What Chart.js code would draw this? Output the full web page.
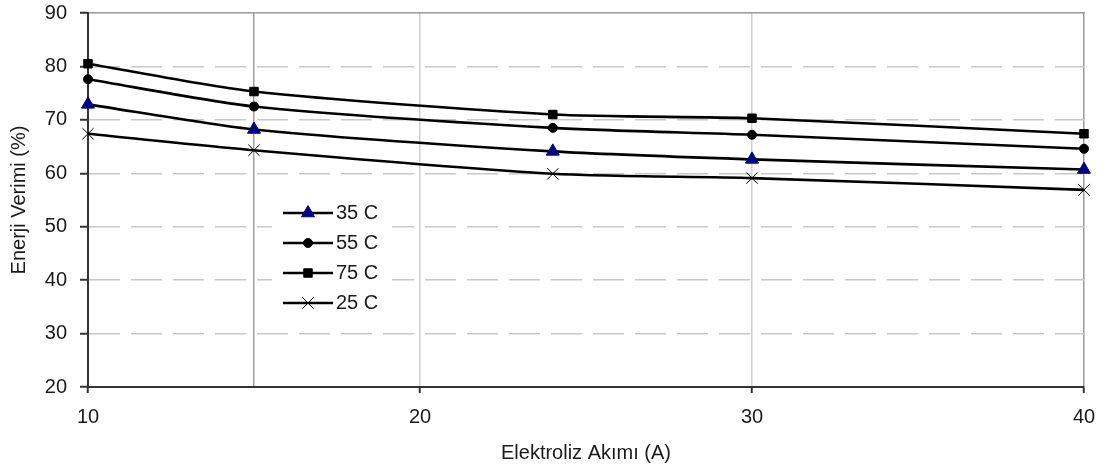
<!DOCTYPE html>
<html>
<head>
<meta charset="utf-8">
<script src="https://cdn.jsdelivr.net/npm/chart.js@4/dist/chart.umd.min.js"></script>
<style>
    html, body { margin: 0; padding: 0; background: #fff; }
    #verim-chart { display: block; }
</style>
</head>
<body>
<canvas id="verim-chart" width="1107" height="470"></canvas>
<script>
    // Elektroliz akımı (A)
    const akim = [10, 15, 24, 30, 40];

    // Enerji verimi (%) for each temperature
    const verim35 = [72.9, 68.2, 64.1, 62.6, 60.7];
    const verim55 = [77.6, 72.5, 68.5, 67.2, 64.6];
    const verim75 = [80.5, 75.3, 71.0, 70.3, 67.4];
    const verim25 = [67.4, 64.3, 59.9, 59.1, 56.9];

    const seriesNames = ['35 C', '55 C', '75 C', '25 C'];
    const xTicks = [10, 15, 20, 30, 40];
    const yTicks = [20, 30, 40, 50, 60, 70, 80, 90];

    Chart.defaults.font.family = "'Liberation Sans', Arial, sans-serif";
    Chart.defaults.font.size = 20;
    Chart.defaults.color = '#1a1a1a';

    const toPoints = vals => vals.map((v, i) => ({ x: akim[i], y: v }));

    function series(label, vals, style, radius, fill) {
        return {
            label: label,
            data: toPoints(vals),
            borderColor: '#000',
            borderWidth: 2.6,
            tension: 0.25,
            clip: false,
            pointStyle: style,
            pointRadius: radius,
            pointBackgroundColor: fill,
            pointBorderColor: fill,
            pointBorderWidth: 1
        };
    }

    // no extra room for label overhang, the layout padding handles it
    const noOverhang = s => {
        s.paddingTop = 0; s.paddingBottom = 0;
        s.paddingLeft = 0; s.paddingRight = 0;
    };

    // legend box sitting inside the plot area
    const innerLegend = {
        id: 'innerLegend',
        afterDatasetsDraw(chart) {
            const ctx = chart.ctx;
            const left = 283, top = 213, rowH = 30;
            ctx.save();
            ctx.fillStyle = '#fff';
            ctx.fillRect(left - 11, top - 17, 120, rowH * 4 + 6);
            chart.data.datasets.forEach((ds, i) => {
                const y = top + i * rowH;
                ctx.strokeStyle = ds.borderColor;
                ctx.lineWidth = ds.borderWidth;
                ctx.beginPath();
                ctx.moveTo(left, y);
                ctx.lineTo(left + 50, y);
                ctx.stroke();
                ctx.fillStyle = ds.pointBackgroundColor;
                ctx.strokeStyle = ds.pointBorderColor;
                ctx.lineWidth = ds.pointBorderWidth;
                Chart.helpers.drawPoint(ctx, {
                    pointStyle: ds.pointStyle,
                    radius: ds.pointRadius,
                    borderWidth: ds.pointBorderWidth,
                    rotation: 0
                }, left + 25, y);
                ctx.fillStyle = '#1a1a1a';
                ctx.font = "20px 'Liberation Sans', Arial, sans-serif";
                ctx.textBaseline = 'middle';
                ctx.textAlign = 'left';
                ctx.fillText(ds.label, left + 53, y);
            });
            ctx.restore();
        }
    };

    const ctx = document.getElementById('verim-chart').getContext('2d');
    const chart = new Chart(ctx, {
        type: 'line',
        data: {
            datasets: [
                series(seriesNames[0], verim35, 'triangle', 7.5, '#000080'),
                series(seriesNames[1], verim55, 'circle', 4.5, '#000'),
                series(seriesNames[2], verim75, 'rect', 6, '#000'),
                series(seriesNames[3], verim25, 'crossRot', 8, '#000')
            ]
        },
        options: {
            responsive: false,
            animation: false,
            layout: { padding: { top: 13, right: 23, left: 0, bottom: 0 } },
            plugins: {
                legend: { display: false },
                tooltip: { enabled: false }
            },
            scales: {
                x: {
                    type: 'linear',
                    min: 10,
                    max: 40,
                    afterBuildTicks: s => { s.ticks = xTicks.map(v => ({ value: v })); },
                    afterFit: s => { s.height = 83; noOverhang(s); },
                    ticks: {
                        padding: 12,
                        callback: v => (v === 15 ? '' : v)
                    },
                    grid: {
                        color: c => {
                            const v = c.tick ? c.tick.value : null;
                            if (v === 10) return 'rgba(0,0,0,0)';
                            if (v === 15) return '#a0a0a0';
                            if (v === 40) return '#9a9a9a';
                            return '#d0d0d0';
                        },
                        lineWidth: 1.5,
                        tickLength: 6,
                        tickWidth: 2,
                        tickColor: c => (c.tick && c.tick.value === 15 ? 'rgba(0,0,0,0)' : '#333')
                    },
                    border: { color: '#333', width: 2 },
                    title: {
                        display: true,
                        text: 'Elektroliz Akımı (A)',
                        padding: { top: 0, bottom: 5 }
                    }
                },
                xTop: {
                    type: 'linear',
                    position: 'top',
                    min: 10,
                    max: 40,
                    ticks: { display: false },
                    grid: { display: false, drawTicks: false },
                    border: { color: '#9a9a9a', width: 1.5 },
                    afterFit: s => { s.height = 0; noOverhang(s); }
                },
                y: {
                    min: 20,
                    max: 90,
                    afterBuildTicks: s => { s.ticks = yTicks.map(v => ({ value: v })); },
                    afterFit: s => { s.width = 88; noOverhang(s); },
                    ticks: { padding: 13 },
                    grid: {
                        color: c => {
                            const v = c.tick ? c.tick.value : null;
                            return (v === 20 || v === 90) ? 'rgba(0,0,0,0)' : '#c8c8c8';
                        },
                        lineWidth: 1.5,
                        tickLength: 8,
                        tickWidth: 2,
                        tickColor: '#333'
                    },
                    border: { color: '#333', width: 2, dash: [31, 11] },
                    title: {
                        display: true,
                        text: 'Enerji Verimi (%)',
                        padding: { top: 7, bottom: 0 }
                    }
                }
            }
        },
        plugins: [innerLegend]
    });
</script>
</body>
</html>
